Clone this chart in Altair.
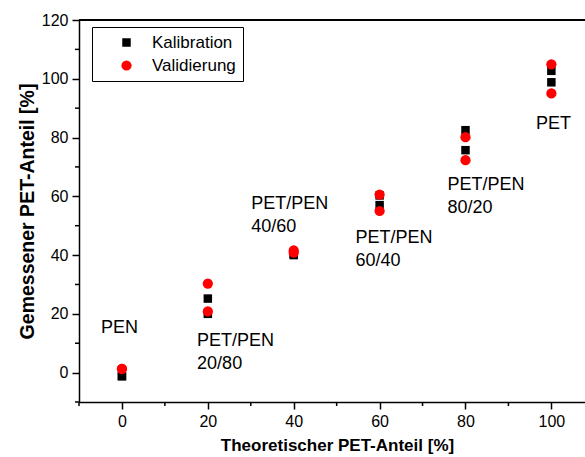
import altair as alt
import pandas as pd

# Measured vs. theoretical PET share (%), two repeat measurements per blend
theoretical = [0, 0, 20, 20, 40, 40, 60, 60, 80, 80, 100, 100]
kalibration = [-1.2, -1.2, 25.2, 20.0, 40.0, 40.4, 60.3, 57.0, 82.5, 75.7, 102.7, 98.8]
validierung = [1.3, 1.3, 30.3, 20.8, 41.6, 40.8, 60.6, 55.0, 80.1, 72.3, 104.9, 95.0]
series = ["Kalibration", "Validierung"]

# Blend annotations (anchored at the top-left of each text block, in data units)
blend_text = ["PEN", "PET/PEN\n20/80", "PET/PEN\n40/60", "PET/PEN\n60/40", "PET/PEN\n80/20", "PET"]
blend_x = [-4.9, 17.5, 30.1, 54.4, 75.8, 96.4]
blend_y = [18.2, 13.9, 60.3, 48.8, 66.8, 87.6]

x_major = [0, 20, 40, 60, 80, 100]
x_minor = [-10, 10, 30, 50, 70, 90]
y_major = [0, 20, 40, 60, 80, 100, 120]
y_minor = [-10, 10, 30, 50, 70, 90, 110]

points = pd.DataFrame({
    "theo": theoretical * 2,
    "meas": kalibration + validierung,
    "serie": [series[0]] * len(kalibration) + [series[1]] * len(validierung),
})
labels = pd.DataFrame({"txt": blend_text, "x": blend_x, "y": blend_y})
xminor_df = pd.DataFrame({"v": x_minor})
yminor_df = pd.DataFrame({"v": y_minor})

W, H = 506, 382
FONT = "Liberation Sans"

x_scale = alt.Scale(domain=[-10, 107.83], nice=False, zero=False)
y_scale = alt.Scale(domain=[-10, 120], nice=False, zero=False)

x_axis = alt.Axis(
    title="Theoretischer PET-Anteil [%]",
    values=x_major,
    tickSize=7,
    labelPadding=4,
    labelFontSize=16,
    titleFontSize=17,
    titleX=258,
    titleY=43,
    titleBaseline="middle",
    titleAlign="center",
)
y_axis = alt.Axis(
    title="Gemessener PET-Anteil [%]",
    values=y_major,
    tickSize=7,
    labelPadding=4,
    labelFontSize=16,
    titleFontSize=19.5,
    titleX=-52,
    titleY=H / 2,
    titleBaseline="middle",
    titleAlign="center",
)

scatter = alt.Chart(points).mark_point(filled=True, opacity=1, strokeWidth=0).encode(
    x=alt.X("theo:Q", scale=x_scale, axis=x_axis),
    y=alt.Y("meas:Q", scale=y_scale, axis=y_axis),
    color=alt.Color("serie:N", scale=alt.Scale(domain=series, range=["#000000", "#ff0000"]),
                    legend=alt.Legend(title=None)),
    shape=alt.Shape("serie:N", scale=alt.Scale(domain=series, range=["square", "circle"]),
                    legend=alt.Legend(title=None)),
    size=alt.Size("serie:N", scale=alt.Scale(domain=series, range=[72, 105]),
                  legend=alt.Legend(title=None)),
    order=alt.Order("serie:N"),
)

blend_labels = alt.Chart(labels).mark_text(
    align="left", baseline="top", font=FONT, fontSize=18, lineHeight=23,
    lineBreak="\n", color="#000000",
).encode(
    x=alt.X("x:Q", scale=x_scale),
    y=alt.Y("y:Q", scale=y_scale),
    text="txt:N",
)

# short minor ticks below the x axis and left of the y axis
x_minor_ticks = alt.Chart(xminor_df).mark_rule(color="#000000", strokeWidth=1.5).encode(
    x=alt.X("v:Q", scale=x_scale), y=alt.value(H), y2=alt.value(H + 4)
)
y_minor_ticks = alt.Chart(yminor_df).mark_rule(color="#000000", strokeWidth=1.5).encode(
    y=alt.Y("v:Q", scale=y_scale), x=alt.value(0), x2=alt.value(-4)
)

# upper frame line of the plot box
frame_top = alt.Chart(xminor_df).mark_rule(color="#000000", strokeWidth=1.5).encode(
    x=alt.value(0), x2=alt.value(W), y=alt.value(0)
)

chart = alt.layer(frame_top, x_minor_ticks, y_minor_ticks, scatter, blend_labels).properties(
    width=W, height=H,
    autosize=alt.AutoSizeParams(type="none"),
    padding={"left": 79, "top": 20, "right": 0, "bottom": 55},
).configure_view(stroke=None).configure_axis(
    grid=False,
    domainColor="#000000", domainWidth=1.5,
    tickColor="#000000", tickWidth=1.5,
    labelFont=FONT, labelColor="#000000",
    titleFont=FONT, titleFontWeight="bold", titleColor="#000000",
).configure_legend(
    orient="none", legendX=13, legendY=7,
    strokeColor="#000000", strokeWidth=1, fillColor="#ffffff",
    padding=7, symbolOffset=19, labelOffset=17, rowPadding=5,
    labelFont=FONT, labelFontSize=17, labelColor="#000000",
    symbolStrokeWidth=0,
)

chart.save("out.html", embed_options={"renderer": "svg", "actions": False})
